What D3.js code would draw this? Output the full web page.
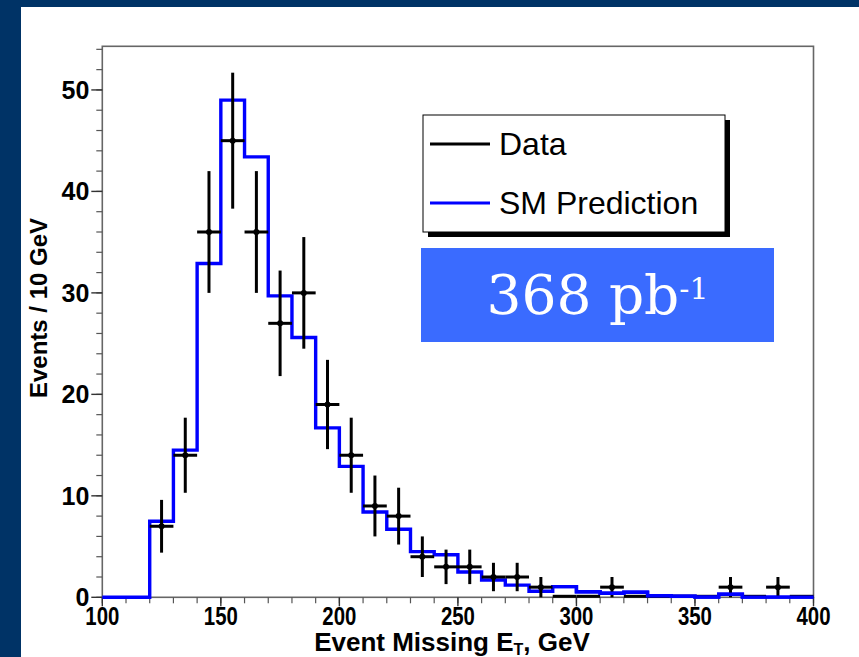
<!DOCTYPE html>
<html>
<head>
<meta charset="utf-8">
<script src="https://cdn.jsdelivr.net/npm/d3@7"></script>
<style>
  html, body { margin: 0; padding: 0; background: #003366; }
  svg { display: block; }
</style>
</head>
<body>
<script>
// ---- data ----
const binLow = [100,110,120,130,140,150,160,170,180,190,200,210,220,230,240,250,260,270,280,290,300,310,320,330,340,350,360,370,380,390];
const binWidth = 10;
const smPrediction = [0,0,7.5,14.5,32.9,49.0,43.4,29.7,25.6,16.7,12.9,8.4,6.7,4.5,4.2,2.5,1.7,1.2,0.6,1.05,0.55,0.4,0.5,0.15,0.1,0.03,0.3,0.02,0.02,0.02];
const dataCounts = [0,0,7,14,36,45,36,27,30,19,14,9,8,4,3,3,2,2,1,0,0,1,0,0,0,0,1,0,1,0];
const dataErrors = [0,0,2.6,3.7,6.0,6.7,6.0,5.2,5.5,4.4,3.7,3.0,2.8,2.0,1.7,1.7,1.4,1.4,1.0,0,0,1.0,0,0,0,0,1.0,0,1.0,0];
const xTicks = [100,150,200,250,300,350,400];
const yTicks = [0,10,20,30,40,50];
const legendLabels = ["Data","SM Prediction"];
const legendColors = ["#000000","#0000ff"];

const W = 859, H = 657;
const svg = d3.select("body").append("svg").attr("width", W).attr("height", H);

// background panels
svg.append("rect").attr("x",0).attr("y",0).attr("width",W).attr("height",H).attr("fill","#003366");
svg.append("rect").attr("x",21).attr("y",7).attr("width",W-21).attr("height",H-7).attr("fill","#ffffff");

const x = d3.scaleLinear().domain([100,400]).range([102.3,813.5]);
const y = d3.scaleLinear().domain([0,54.3]).range([597.3,46.3]);

// frame
svg.append("rect").attr("x",x(100)).attr("y",y(54.3)).attr("width",x(400)-x(100)).attr("height",y(0)-y(54.3))
  .attr("fill","none").attr("stroke","#666").attr("stroke-width",1.6);

// y axis ticks
const yMinor = d3.range(0, 55, 2);
const gy = svg.append("g");
gy.selectAll("line.minor").data(yMinor).join("line")
  .attr("x1", x(100)-6).attr("x2", x(100)).attr("y1", d=>y(d)).attr("y2", d=>y(d))
  .attr("stroke","#555").attr("stroke-width",1.2);
gy.selectAll("line.major").data(yTicks).join("line")
  .attr("x1", x(100)-11).attr("x2", x(100)).attr("y1", d=>y(d)).attr("y2", d=>y(d))
  .attr("stroke","#333").attr("stroke-width",1.4);
gy.selectAll("text").data(yTicks).join("text")
  .attr("x", x(100)-13).attr("y", d=>y(d)+9)
  .attr("text-anchor","end")
  .attr("font-family","Liberation Sans, Arial, sans-serif").attr("font-weight","bold")
  .attr("font-size",25).attr("fill","#000")
  .text(d=>d);

// x axis ticks
const xMinor = d3.range(100, 401, 10);
const gx = svg.append("g");
gx.selectAll("line.minor").data(xMinor).join("line")
  .attr("x1", d=>x(d)).attr("x2", d=>x(d)).attr("y1", y(0)).attr("y2", y(0)+6)
  .attr("stroke","#555").attr("stroke-width",1.2);
gx.selectAll("line.major").data(xTicks).join("line")
  .attr("x1", d=>x(d)).attr("x2", d=>x(d)).attr("y1", y(0)).attr("y2", y(0)+9)
  .attr("stroke","#333").attr("stroke-width",1.4);
gx.selectAll("text").data(xTicks).join("text")
  .attr("x", d=>x(d)).attr("y", 625)
  .attr("text-anchor","middle")
  .attr("font-family","Liberation Sans, Arial, sans-serif").attr("font-weight","bold")
  .attr("font-size",25).attr("fill","#000")
  .attr("textLength",34).attr("lengthAdjust","spacingAndGlyphs")
  .text(d=>d);

// axis titles
const xt = svg.append("text").attr("x",452).attr("y",651).attr("text-anchor","middle")
  .attr("font-family","Liberation Sans, Arial, sans-serif").attr("font-weight","bold")
  .attr("font-size",26).attr("fill","#000");
xt.append("tspan").text("Event Missing E");
xt.append("tspan").attr("font-size",16).attr("dy",4).text("T");
xt.append("tspan").attr("dy",-4).text(", GeV");

svg.append("text").attr("transform","translate(47,308) rotate(-90)").attr("text-anchor","middle")
  .attr("font-family","Liberation Sans, Arial, sans-serif").attr("font-weight","bold")
  .attr("font-size",24).attr("fill","#000").text("Events / 10 GeV");

// SM prediction step line
const stepPts = binLow.map((b,i)=>[b, smPrediction[i]]);
stepPts.push([binLow[binLow.length-1]+binWidth, smPrediction[smPrediction.length-1]]);
const line = d3.line().x(d=>x(d[0])).y(d=>y(d[1])).curve(d3.curveStepAfter);
svg.append("path").attr("d", line(stepPts)).attr("fill","none")
  .attr("stroke","#0000ff").attr("stroke-width",3.4).attr("stroke-linejoin","miter");

// data points with error bars
const pts = binLow.map((b,i)=>({lo:b, c:b+binWidth/2, v:dataCounts[i], e:dataErrors[i]}));
const gd = svg.append("g");
gd.selectAll("line.h").data(pts.filter(d=>d.v>0)).join("line")
  .attr("x1", d=>x(d.lo)).attr("x2", d=>x(d.lo+binWidth)).attr("y1", d=>y(d.v)).attr("y2", d=>y(d.v))
  .attr("stroke","#000").attr("stroke-width",3);
gd.selectAll("line.v").data(pts.filter(d=>d.v>0)).join("line")
  .attr("x1", d=>x(d.c)).attr("x2", d=>x(d.c)).attr("y1", d=>y(d.v+d.e)).attr("y2", d=>y(d.v-d.e))
  .attr("stroke","#000").attr("stroke-width",3);
gd.selectAll("circle").data(pts.filter(d=>d.v>0)).join("circle")
  .attr("cx", d=>x(d.c)).attr("cy", d=>y(d.v)).attr("r",3).attr("fill","#000");
// zero bins in the tail, drawn just under the prediction
gd.selectAll("line.z").data(pts.filter(d=>d.v===0 && d.lo>=290)).join("line")
  .attr("x1", d=>x(d.lo)).attr("x2", d=>x(d.lo+binWidth)).attr("y1", y(0)-1).attr("y2", y(0)-1)
  .attr("stroke","#000").attr("stroke-width",3);
// redraw blue over zero bars
svg.append("path").attr("d", line(stepPts.filter(p=>p[0]>=290))).attr("fill","none")
  .attr("stroke","#0000ff").attr("stroke-width",3.4);

// legend
const lg = svg.append("g");
lg.append("rect").attr("x",428).attr("y",120).attr("width",302).attr("height",117).attr("fill","#000");
lg.append("rect").attr("x",423).attr("y",115).attr("width",302).attr("height",117)
  .attr("fill","#fff").attr("stroke","#000").attr("stroke-width",1);
const legY = [144, 203];
legendLabels.forEach((lab,i)=>{
  lg.append("line").attr("x1",430).attr("x2",490).attr("y1",legY[i]).attr("y2",legY[i])
    .attr("stroke",legendColors[i]).attr("stroke-width",3);
  lg.append("text").attr("x",499).attr("y",legY[i]+11)
    .attr("font-family","Liberation Sans, Arial, sans-serif").attr("font-size",32).attr("fill","#000")
    .text(lab);
});

// luminosity box
svg.append("rect").attr("x",421).attr("y",248).attr("width",353).attr("height",94).attr("fill","#3a6bff");
const lt = svg.append("text").attr("x",597.5).attr("y",314).attr("text-anchor","middle")
  .attr("font-family","DejaVu Serif, Liberation Serif, serif").attr("font-size",55).attr("fill","#fff");
lt.append("tspan").text("368 pb");
lt.append("tspan").attr("font-size",30).attr("dy",-15).text("-1");
</script>
</body>
</html>
